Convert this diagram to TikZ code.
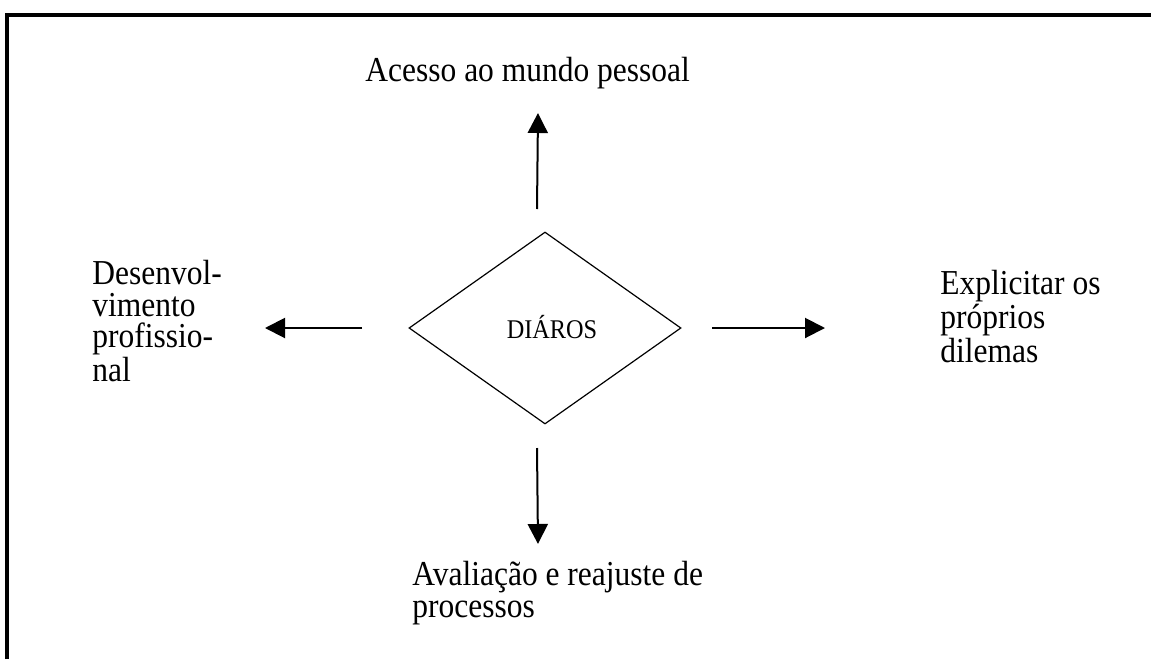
\documentclass[tikz,border=0pt]{standalone}
\usepackage{fontspec}
\setmainfont{Liberation Serif}[FakeStretch=0.9]
\usetikzlibrary{shapes.geometric,arrows.meta}
\tikzset{ t/.style = { anchor = base west % text block, last line
, align = left
, inner sep = 0pt
, font = \fontsize{17.5}{15.6}\selectfont
}
, dl/.style = { anchor = base % diamond text
, inner sep = 0pt
, font = \fontsize{13.5}{15}\selectfont
}
}

\begin{document}
\begin{tikzpicture}[x=0.5pt, y=-0.5pt,
        diamond_style/.style={diamond,draw=black,line width=0.6pt,minimum width=136pt,minimum height=96pt,inner sep=0pt},
        frame_style/.style={draw=black,line width=2pt},
        edge_style/.style={draw=black,line width=1pt,-{Triangle[length=10pt,width=10pt]}}]
        \useasboundingbox (0,0) rectangle (1151,659);
        \draw [frame_style] (6.5,659) |- (1151,15);

            \node [diamond_style](d) at (545,328) {};
            \node [dl](dtext) at (552,338) {DIÁROS};
            \node [t](acesso) at (365,81) {Acesso ao mundo pessoal};
            \node [t](desenv) at (92,381) {Desenvol-\\vimento\\profissio-\\nal};
            \node [t](explic) at (940,362) {Explicitar os\\próprios\\dilemas};
            \node [t](aval) at (412,617) {Avaliação e reajuste de\\processos};
            \coordinate (up0) at (537,209);
            \coordinate (up1) at (538,113);
            \coordinate (lt0) at (362,328);
            \coordinate (lt1) at (265,328);
            \coordinate (rt0) at (712,328);
            \coordinate (rt1) at (825,328);
            \coordinate (dn0) at (537,448);
            \coordinate (dn1) at (538,544);
            \draw [edge_style] (up0) -- (up1);
            \draw [edge_style] (lt0) -- (lt1);
            \draw [edge_style] (rt0) -- (rt1);
            \draw [edge_style] (dn0) -- (dn1);

        \end{tikzpicture}
\end{document}
